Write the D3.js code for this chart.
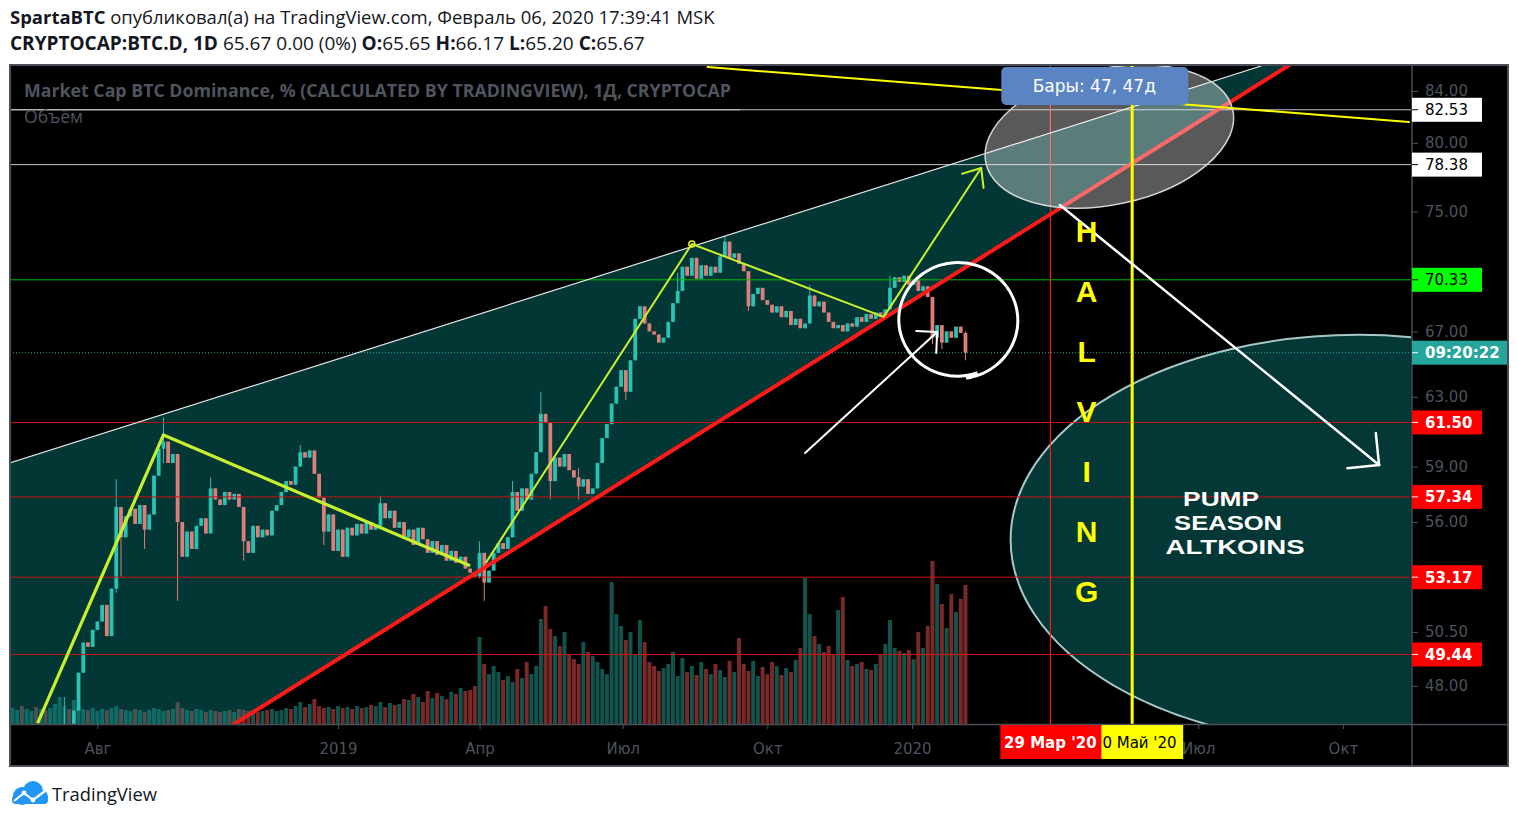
<!DOCTYPE html>
<html>
<head>
<meta charset="utf-8">
<script src="https://cdn.jsdelivr.net/npm/d3@7"></script>
<style>
  body { margin: 0; background: #fff; }
  svg { display: block; }
</style>
</head>
<body>
<div id="chart"></div>
<script>
// ---- data ----
const candleStart = "2018-06-08";
const candleStepDays = 3;
// closes, one every 3 days (BTC dominance, %)
const closes = [
  44.8, 45.0, 44.6, 44.9, 45.3, 45.1, 45.4, 45.2, 45.6, 45.8,
  46.0, 46.2, 46.1, 46.9, 48.6, 50.0, 49.8, 50.6, 51.0, 51.8,
  50.3, 52.6, 56.8, 55.2, 56.3, 56.7, 55.9, 56.9, 55.6, 56.4,
  58.5, 60.0, 60.4, 59.2, 59.7, 56.0, 54.2, 55.5, 54.6, 55.8,
  56.2, 55.4, 57.8, 57.2, 56.9, 57.6, 57.2, 57.5, 56.8, 55.0,
  54.4, 55.8, 55.2, 55.6, 55.3, 56.6, 56.9, 57.6, 58.2, 58.0,
  59.0, 59.8, 59.5, 59.9, 58.6, 57.3, 55.5, 56.4, 54.5, 55.6,
  54.2, 55.7, 55.3, 55.9, 55.4, 56.0, 55.6, 55.8, 57.0, 56.2,
  56.6, 55.7, 56.0, 55.2, 55.6, 54.8, 55.7, 55.1, 54.4, 55.0,
  54.3, 54.8, 54.0, 54.5, 53.9, 54.2, 53.6, 53.4, 53.2, 54.4,
  52.9, 53.5, 54.4, 54.9, 54.6, 55.2, 57.6, 56.6, 57.8, 57.2,
  58.6, 59.8, 62.0, 61.5, 58.2, 59.5, 59.0, 59.7, 58.8, 58.4,
  57.9, 58.3, 57.5, 57.8, 59.2, 60.6, 61.4, 62.6, 63.6, 64.6,
  63.3, 65.2, 67.8, 68.6, 67.5, 67.0, 66.8, 66.3, 66.6, 67.6,
  68.8, 69.6, 71.2, 70.6, 71.8, 70.4, 71.3, 70.6, 71.2, 70.8,
  71.9, 72.9, 71.8, 72.1, 71.4, 70.9, 68.6, 69.4, 69.8, 69.0,
  68.7, 68.2, 68.6, 67.9, 68.3, 67.4, 67.8, 67.2, 67.5, 69.3,
  68.6, 68.9, 68.2, 67.6, 67.2, 67.4, 67.0, 67.5, 67.3, 67.9,
  67.6, 68.1, 67.8, 68.2, 67.9, 68.4, 69.8, 70.5, 70.2, 70.6,
  70.0, 70.3, 69.6, 69.9, 69.2, 66.6, 67.4, 66.3, 67.0, 66.6,
  67.3, 66.9, 65.67
];
// volume, same dates (relative units)
const volumes = [
  1.6, 1.4, 1.8, 1.5, 1.3, 1.7, 1.5, 1.4, 1.6, 2.0,
  2.7, 1.8, 1.5, 2.4, 1.7, 1.5, 1.4, 1.6, 1.3, 1.5,
  1.4, 1.6, 1.8, 1.5, 1.4, 1.3, 1.5, 1.4, 1.2, 1.4,
  1.6, 1.5, 1.3, 1.4, 1.5, 2.2, 1.6, 1.4, 1.3, 1.5,
  1.4, 1.2, 1.4, 1.3, 1.2, 1.3, 1.4, 1.2, 1.5, 1.4,
  1.3, 1.4, 1.2, 1.3, 1.4, 1.5, 1.3, 1.4, 1.6, 1.5,
  1.8, 2.2, 1.7, 2.0, 2.5, 1.8, 1.6, 1.7, 1.5, 1.8,
  1.6, 1.7, 1.5, 1.8, 1.6, 1.7, 1.9, 1.8, 2.2, 1.7,
  2.1, 1.9, 2.0, 2.5, 2.4, 3.0, 2.7, 2.2, 3.3, 2.6,
  3.1, 2.8, 2.5, 3.2, 3.0, 3.6, 3.3, 3.4, 3.8, 8.7,
  6.0, 5.0, 5.8, 5.2, 4.4, 4.8, 4.2, 5.5, 4.6, 6.2,
  5.0, 5.8, 10.5, 11.8, 9.5, 8.8, 7.8, 9.2, 7.0, 6.5,
  6.0, 8.2, 7.2, 6.8, 6.2, 5.5, 5.0, 14.2, 11.0, 9.8,
  8.4, 9.2, 7.0, 10.4, 8.2, 6.2, 5.8, 5.3, 5.6, 6.0,
  7.2, 4.8, 6.6, 5.2, 5.8, 4.9, 6.2, 5.5, 5.0, 6.0,
  5.4, 4.7, 6.3, 5.2, 8.6, 6.0, 5.3, 6.3, 4.8, 5.7,
  5.0, 6.2, 5.8, 4.9, 5.6, 5.2, 6.4, 7.6, 14.6, 11.0,
  8.8, 8.0, 7.2, 7.8, 7.0, 11.4, 12.7, 6.4, 5.8, 6.0,
  6.2, 5.5, 5.4, 6.0, 7.0, 8.0, 10.4, 7.6, 7.3, 7.1,
  7.4, 6.5, 9.2, 7.6, 9.8, 16.3, 14.0, 12.0, 9.6, 13.0,
  11.2, 12.5, 13.9
];
// notable wicks: [index, high, low]
const wicks = [
  [11, 47.5, 45.8], [22, 58.3, 52.4], [23, 56.8, 53.2], [28, 56.9, 54.6],
  [32, 61.8, 59.2], [35, 59.7, 52.0], [42, 58.4, 55.4], [49, 56.8, 54.0],
  [61, 60.2, 59.0], [66, 57.3, 54.8], [78, 57.4, 55.6], [99, 55.0, 53.1],
  [100, 54.4, 52.0], [106, 58.2, 55.2], [112, 63.3, 59.8], [114, 61.5, 57.2],
  [120, 58.9, 57.2], [130, 64.6, 62.8], [141, 70.8, 68.8], [151, 73.3, 71.9],
  [156, 70.9, 68.3], [169, 70.0, 67.5], [186, 70.6, 68.4], [195, 69.2, 66.2],
  [197, 67.4, 65.9], [202, 67.0, 65.2]
];

const whiteLevels = [82.53, 78.38];
const greenLevels = [70.33];
const redLevels = [61.50, 57.34, 53.17, 49.44];
const lastPrice = 65.67;
const countdown = "09:20:22";

const yTicks = [84, 80, 75, 67, 63, 59, 56, 50.5, 48];
const xTickDates = ["2018-08-01", "2019-01-01", "2019-04-01", "2019-07-01", "2019-10-01",
                    "2020-01-01", "2020-07-01", "2020-10-01"];
const xTickLabels = ["Авг", "2019", "Апр", "Июл", "Окт", "2020", "Июл", "Окт"];

const halvingDate = "2020-03-29", halvingLabel = "29 Мар '20";
const targetDate = "2020-05-20", targetLabel = "0 Май '20";   // its "2" sits under the red label
const rangeLabel = "Бары: 47, 47д";

// drawings: [date, value] anchors
const upperChannel = [["2018-06-06", 59.19], ["2020-08-10", 86.0]];
const lowerChannel = [["2018-10-26", 46.27], ["2020-08-30", 86.24]];
const zigzagA = [["2018-06-24", 46.35], ["2018-09-12", 60.78], ["2019-03-26", 53.74]];
const zigzagB = [["2019-04-05", 53.89], ["2019-08-14", 72.74], ["2019-12-14", 67.92], ["2020-02-14", 78.13]];
const yellowRay = [["2019-08-24", 85.92], ["2020-11-12", 81.59]];
const smallArrow = [["2019-10-25", 59.76], ["2020-01-17", 66.96]];
const bigArrow = [["2020-04-04", 75.46], ["2020-10-24", 59.09]];
const targetZone = [["2020-02-17", 78.50], ["2020-07-23", 82.51]];
const breakdownCircle = ["2020-01-30", 67.72];
const pumpZone = ["2020-10-11", 55.07];
const halvingWord = "HALVING";
const halvingAnchor = ["2020-04-21", 72.88];
const pumpLines = ["PUMP", "SEASON", "ALTKOINS"];
const pumpAnchor = ["2020-07-20", 56.86];

// ---- layout ----
const W = 1518, H = 821;
const plot = { left: 10, right: 1411, top: 66, bottom: 724 };
const axisX = 1412;
const font = "'DejaVu Sans', sans-serif";
const upColor = "#2cc2b3", downColor = "#dc7f7a";

const parse = d3.utcParse("%Y-%m-%d");
const x = d3.scaleUtc()
  .domain([new Date(Date.UTC(2018, 5, 6, 10, 19)), new Date(Date.UTC(2020, 10, 12, 16, 0))])
  .range([10, 1410]);
const y = d3.scaleLog().domain([46.31, 86.0]).range([plot.bottom, plot.top]);
const vol = d3.scaleLinear().domain([0, 17]).range([plot.bottom, plot.bottom - 170]);
const pt = d => [x(parse(d[0])), y(d[1])];

const svg = d3.select("#chart").append("svg").attr("width", W).attr("height", H);
svg.append("rect").attr("width", W).attr("height", H).attr("fill", "#fff");

// header
const h1 = svg.append("text").attr("x", 10).attr("y", 24)
  .style("font-family", "'Open Sans', sans-serif").style("font-size", "17px").attr("fill", "#131722");
h1.append("tspan").attr("font-weight", "bold").text("SpartaBTC");
h1.append("tspan").text(" опубликовал(а) на TradingView.com, Февраль 06, 2020 17:39:41 MSK");

const h2 = svg.append("text").attr("x", 10).attr("y", 50)
  .style("font-family", "'Open Sans', sans-serif").style("font-size", "17px").attr("fill", "#131722");
[["CRYPTOCAP:BTC.D, 1D", true], [" 65.67 0.00 (0%) ", false], ["O:", true], ["65.65 ", false],
 ["H:", true], ["66.17 ", false], ["L:", true], ["65.20 ", false], ["C:", true], ["65.67", false]]
  .forEach(([t, b]) => h2.append("tspan").attr("font-weight", b ? "bold" : "normal").text(t));

function fitWidth(sel, target) {
  const w = sel.node().getComputedTextLength();
  const fs = parseFloat(sel.style("font-size"));
  sel.style("font-size", (fs * target / w) + "px");
}
fitWidth(h1, 705);
fitWidth(h2, 635);

// chart background
svg.append("rect").attr("x", 10).attr("y", 65).attr("width", 1498).attr("height", 701).attr("fill", "#000");

const defs = svg.append("defs");
defs.append("clipPath").attr("id", "clip").append("rect")
  .attr("x", plot.left).attr("y", plot.top).attr("width", plot.right - plot.left).attr("height", plot.bottom - plot.top);
const g = svg.append("g").attr("clip-path", "url(#clip)");

// candles
const start = parse(candleStart);
const wickMap = new Map(wicks.map(w => [w[0], w]));
const candles = closes.map((c, i) => {
  const open = i ? closes[i - 1] : c;
  const w = wickMap.get(i);
  return {
    date: d3.utcDay.offset(start, i * candleStepDays),
    open, close: c,
    high: w ? w[1] : Math.max(open, c),
    low: w ? w[2] : Math.min(open, c),
    volume: volumes[i]
  };
});
const step = x(d3.utcDay.offset(start, candleStepDays)) - x(start);

// volume
g.append("g").selectAll("rect").data(candles).join("rect")
  .attr("x", d => x(d.date) - step * 0.42)
  .attr("width", step * 0.84)
  .attr("y", d => vol(d.volume))
  .attr("height", d => plot.bottom - vol(d.volume))
  .attr("fill", d => d.close >= d.open ? "rgba(38,166,154,0.5)" : "rgba(239,83,80,0.5)");

// channel fill
const up1 = pt(upperChannel[0]), up2 = pt(upperChannel[1]);
const lo1 = pt(lowerChannel[0]), lo2 = pt(lowerChannel[1]);
const lineY = (a, b, xx) => a[1] + (b[1] - a[1]) * (xx - a[0]) / (b[0] - a[0]);
const su = (up2[1] - up1[1]) / (up2[0] - up1[0]);
const sl = (lo2[1] - lo1[1]) / (lo2[0] - lo1[0]);
const xi = (lineY(lo1, lo2, 0) - lineY(up1, up2, 0)) / (su - sl);
g.append("polygon")
  .attr("points", [[plot.left, lineY(up1, up2, plot.left)], [xi, lineY(up1, up2, xi)], [plot.left, lineY(lo1, lo2, plot.left)]].join(" "))
  .attr("fill", "rgba(8,150,145,0.37)");

// candles on top
const cg = g.append("g");
cg.selectAll("line").data(candles).join("line")
  .attr("x1", d => x(d.date)).attr("x2", d => x(d.date))
  .attr("y1", d => y(d.high)).attr("y2", d => y(d.low))
  .attr("stroke", d => d.close >= d.open ? upColor : downColor).attr("stroke-width", 1);
cg.selectAll("rect").data(candles).join("rect")
  .attr("x", d => x(d.date) - step * 0.4)
  .attr("width", step * 0.8)
  .attr("y", d => y(Math.max(d.open, d.close)))
  .attr("height", d => Math.max(1, Math.abs(y(d.open) - y(d.close))))
  .attr("fill", d => d.close >= d.open ? upColor : downColor);

// pump zone ellipse
const pz = pt(pumpZone);
g.append("ellipse").attr("cx", pz[0]).attr("cy", pz[1]).attr("rx", 348).attr("ry", 205)
  .attr("fill", "#033836").attr("stroke", "#a8c8c8").attr("stroke-width", 2);

// horizontal levels
const hline = (v, color, w, dash) => g.append("line")
  .attr("x1", plot.left).attr("x2", plot.right).attr("y1", y(v)).attr("y2", y(v))
  .attr("stroke", color).attr("stroke-width", w).attr("stroke-dasharray", dash || null);
whiteLevels.forEach(v => hline(v, "#c4c4c4", 1));
greenLevels.forEach(v => hline(v, "#00c000", 1));
redLevels.forEach(v => hline(v, "#cc1111", 1));
hline(lastPrice, "#26a69a", 1, "1,2");

// halving vertical
const hx = x(parse(halvingDate)), tx = x(parse(targetDate));
g.append("line").attr("x1", hx).attr("x2", hx).attr("y1", plot.top).attr("y2", plot.bottom)
  .attr("stroke", "#ff1a1a").attr("stroke-width", 1.2);

// channel lines
const seg = (a, b, color, w) => g.append("line")
  .attr("x1", a[0]).attr("y1", a[1]).attr("x2", b[0]).attr("y2", b[1])
  .attr("stroke", color).attr("stroke-width", w).attr("stroke-linecap", "round");
seg(up1, up2, "#e6e6e6", 1.2);
seg(lo1, lo2, "#ff1a1a", 4);

// target zone ellipse
const t1 = pt(targetZone[0]), t2 = pt(targetZone[1]);
const tc = [(t1[0] + t2[0]) / 2, (t1[1] + t2[1]) / 2];
const trx = Math.hypot(t2[0] - t1[0], t2[1] - t1[1]) / 2;
const tang = Math.atan2(t2[1] - t1[1], t2[0] - t1[0]) * 180 / Math.PI;
g.append("ellipse").attr("cx", 0).attr("cy", 0).attr("rx", trx).attr("ry", 68)
  .attr("transform", `translate(${tc[0]},${tc[1]}) rotate(${tang})`)
  .attr("fill", "rgba(255,255,255,0.35)").attr("stroke", "#d4d4d4").attr("stroke-width", 1.5);

// yellow ray + vertical
seg(pt(yellowRay[0]), pt(yellowRay[1]), "#ffff00", 2);
g.append("line").attr("x1", tx).attr("x2", tx).attr("y1", plot.top).attr("y2", plot.bottom)
  .attr("stroke", "#ffff00").attr("stroke-width", 3);

// zigzags
const lineGen = d3.line().x(d => pt(d)[0]).y(d => pt(d)[1]);
g.append("path").attr("d", lineGen(zigzagA)).attr("fill", "none")
  .attr("stroke", "#c8f030").attr("stroke-width", 3.2).attr("stroke-linejoin", "round");
g.append("path").attr("d", lineGen(zigzagB)).attr("fill", "none")
  .attr("stroke", "#c8f030").attr("stroke-width", 2).attr("stroke-linejoin", "round");
const peak = pt(zigzagB[1]);
g.append("circle").attr("cx", peak[0]).attr("cy", peak[1]).attr("r", 3)
  .attr("fill", "none").attr("stroke", "#e8f030").attr("stroke-width", 1.5);

function arrowHead(from, tip, len, spread, color, w) {
  const a = Math.atan2(from[1] - tip[1], from[0] - tip[0]);
  [-spread, spread].forEach(s => {
    const b = a + s * Math.PI / 180;
    seg(tip, [tip[0] + len * Math.cos(b), tip[1] + len * Math.sin(b)], color, w);
  });
}
arrowHead(pt(zigzagB[2]), pt(zigzagB[3]), 20, 40, "#c8f030", 2);

// white arrows
const sa0 = pt(smallArrow[0]), sa1 = pt(smallArrow[1]);
seg(sa0, sa1, "#ffffff", 2);
arrowHead(sa0, sa1, 21, 45, "#ffffff", 2);
const ba0 = pt(bigArrow[0]), ba1 = pt(bigArrow[1]);
seg(ba0, ba1, "#ffffff", 2.5);
arrowHead(ba0, ba1, 32, 45, "#ffffff", 2.5);

// hand drawn circle
const bc = pt(breakdownCircle);
const loop = d3.range(70, 445, 4).map(t => {
  const r = 1 + 0.05 * (t - 70) / 375;
  const a = t * Math.PI / 180;
  return [bc[0] + 58 * r * Math.cos(a), bc[1] + 56 * r * Math.sin(a)];
});
g.append("path").attr("d", d3.line().curve(d3.curveBasis)(loop)).attr("fill", "none")
  .attr("stroke", "#ffffff").attr("stroke-width", 3);

// HALVING letters
const ha = pt(halvingAnchor);
g.append("g").selectAll("text").data(halvingWord.split("")).join("text")
  .attr("x", ha[0]).attr("y", (d, i) => ha[1] + i * 60)
  .attr("text-anchor", "middle")
  .style("font-family", "'Liberation Sans', Arial, sans-serif").style("font-weight", "bold").style("font-size", "30px")
  .attr("fill", "#ffff00").text(d => d);

// pump text (widths as in the picture, line gap 24px)
const pa = pt(pumpAnchor);
const pumpWidths = [76, 108, 139];
g.append("g").selectAll("text").data(pumpLines).join("text")
  .attr("x", (d, i) => pa[0] + (i - 1) * 7).attr("y", (d, i) => pa[1] + i * 24)
  .attr("text-anchor", "middle")
  .attr("textLength", (d, i) => pumpWidths[i]).attr("lengthAdjust", "spacingAndGlyphs")
  .style("font-family", "'Liberation Sans', Arial, sans-serif").style("font-weight", "bold").style("font-size", "21px")
  .attr("fill", "#ffffff").text(d => d);

// bars range label
const rl = (hx + tx) / 2 + 3;
svg.append("rect").attr("x", rl - 93).attr("y", 67).attr("width", 187).attr("height", 38).attr("rx", 5)
  .attr("fill", "#5b84c3");
svg.append("text").attr("x", rl).attr("y", 92).attr("text-anchor", "middle")
  .style("font-family", font).style("font-size", "17px").attr("fill", "#fff").text(rangeLabel);

// titles inside chart
const t1s = svg.append("text").attr("x", 24).attr("y", 97)
  .style("font-family", "'Open Sans', sans-serif").style("font-weight", "bold").style("font-size", "17px")
  .attr("fill", "#50545f").text("Market Cap BTC Dominance, % (CALCULATED BY TRADINGVIEW), 1Д, CRYPTOCAP");
fitWidth(t1s, 707);
const t2s = svg.append("text").attr("x", 24).attr("y", 123)
  .style("font-family", "'Open Sans', sans-serif").style("font-size", "17px")
  .attr("fill", "#50545f").text("Объём");
fitWidth(t2s, 59);
// the 82.53 line runs over the "Объём" text like the reference
g.append("line").attr("x1", plot.left).attr("x2", 740).attr("y1", y(whiteLevels[0])).attr("y2", y(whiteLevels[0]))
  .attr("stroke", "#c4c4c4").attr("stroke-width", 1);

// axes
const yAxis = svg.append("g").attr("transform", `translate(${axisX},0)`)
  .call(d3.axisRight(y).tickValues(yTicks).tickFormat(d3.format(".2f")).tickSize(6).tickPadding(7));
yAxis.select(".domain").remove();
yAxis.selectAll("line").attr("stroke", "#4c525e");
yAxis.selectAll("text").attr("fill", "#4c525e").style("font-family", font).style("font-size", "15px");

const xAxis = svg.append("g").attr("transform", `translate(0,${plot.bottom})`)
  .call(d3.axisBottom(x).tickValues(xTickDates.map(parse)).tickFormat((d, i) => xTickLabels[i]).tickSize(5).tickPadding(14));
xAxis.select(".domain").remove();
xAxis.selectAll("line").attr("stroke", "#4c525e");
xAxis.selectAll("text").attr("fill", "#4c525e").style("font-family", font).style("font-size", "15px");

// frame lines
svg.append("line").attr("x1", axisX).attr("x2", axisX).attr("y1", 65).attr("y2", 766).attr("stroke", "#4a4e59").attr("stroke-width", 1.5);
svg.append("line").attr("x1", 10).attr("x2", 1508).attr("y1", plot.bottom + 0.5).attr("y2", plot.bottom + 0.5).attr("stroke", "#4a4e59").attr("stroke-width", 1.5);
svg.append("rect").attr("x", 10).attr("y", 65).attr("width", 1498).attr("height", 701)
  .attr("fill", "none").attr("stroke", "#4a4e59").attr("stroke-width", 2);

// price labels
function priceLabel(v, text, bg, fg, bold, w) {
  const yy = y(v);
  svg.append("rect").attr("x", axisX).attr("y", yy - 12).attr("width", w || 70).attr("height", 24).attr("fill", bg);
  svg.append("line").attr("x1", axisX).attr("x2", axisX + 6).attr("y1", yy).attr("y2", yy).attr("stroke", fg);
  svg.append("text").attr("x", axisX + 13).attr("y", yy + 5.5)
    .style("font-family", font).style("font-size", "15px").style("font-weight", bold ? "bold" : "normal")
    .attr("fill", fg).text(text);
}
whiteLevels.forEach(v => priceLabel(v, d3.format(".2f")(v), "#ffffff", "#000", false));
greenLevels.forEach(v => priceLabel(v, d3.format(".2f")(v), "#00ff00", "#000", false));
redLevels.forEach(v => priceLabel(v, d3.format(".2f")(v), "#ff0000", "#fff", true));
priceLabel(lastPrice, countdown, "#26a69a", "#fff", true, 95);

// date labels
const labelTop = plot.bottom + 1, labelH = 34;
svg.append("rect").attr("x", tx - 50).attr("y", labelTop).attr("width", 101).attr("height", labelH).attr("fill", "#ffff00");
svg.append("rect").attr("x", hx - 50).attr("y", labelTop).attr("width", 101).attr("height", labelH).attr("fill", "#ff0000");
svg.append("text").attr("x", hx).attr("y", plot.bottom + 24).attr("text-anchor", "middle")
  .style("font-family", font).style("font-size", "15px").style("font-weight", "bold")
  .attr("fill", "#fff").text(halvingLabel);
svg.append("text").attr("x", hx + 52).attr("y", plot.bottom + 24)
  .style("font-family", font).style("font-size", "15px")
  .attr("fill", "#000").text(targetLabel);

// TradingView logo
const logo = svg.append("g");
logo.append("circle").attr("cx", 22).attr("cy", 796).attr("r", 9).attr("fill", "#2196f3");
logo.append("circle").attr("cx", 33).attr("cy", 791).attr("r", 10).attr("fill", "#2196f3");
logo.append("circle").attr("cx", 41).attr("cy", 797).attr("r", 7).attr("fill", "#2196f3");
logo.append("rect").attr("x", 12).attr("y", 795).attr("width", 36).attr("height", 9).attr("rx", 4).attr("fill", "#2196f3");
logo.append("path").attr("d", "M14,801 L24,793 L33,800 L45,791").attr("fill", "none")
  .attr("stroke", "#fff").attr("stroke-width", 2.2).attr("stroke-linejoin", "round");
[[24, 793], [33, 800]].forEach(p => logo.append("circle").attr("cx", p[0]).attr("cy", p[1]).attr("r", 2.4).attr("fill", "#fff"));
const tv = svg.append("text").attr("x", 52).attr("y", 801)
  .style("font-family", "'Open Sans', sans-serif").style("font-size", "18px").attr("fill", "#131722").text("TradingView");
fitWidth(tv, 105);
</script>
</body>
</html>
